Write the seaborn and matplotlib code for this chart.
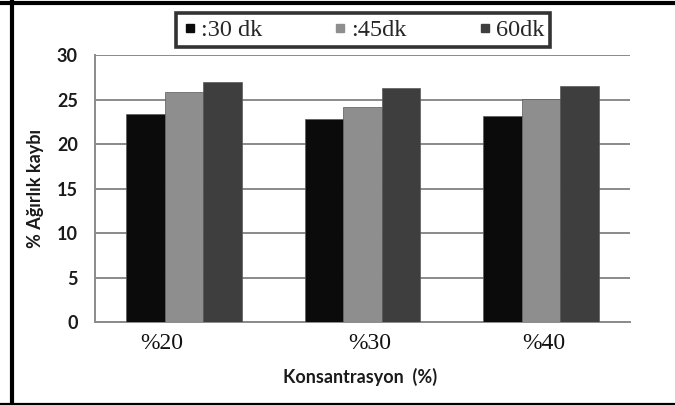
import matplotlib
matplotlib.use("Agg")
import matplotlib.pyplot as plt
import matplotlib.transforms as mtransforms
from matplotlib.lines import Line2D
import seaborn as sns
import pandas as pd

# Weight loss (%) by concentration and treatment time
categories = ["%20", "%30", "%40"]
series_names = [":30 dk", ":45dk", "60dk"]
loss_30dk = [23.4, 22.8, 23.1]
loss_45dk = [25.8, 24.2, 25.1]
loss_60dk = [27.0, 26.3, 26.5]
y_ticks = [0, 5, 10, 15, 20, 25, 30]

colors = ["#0b0b0b", "#8e8e8e", "#3e3e3e"]

rows = []
for name, vals in zip(series_names, [loss_30dk, loss_45dk, loss_60dk]):
    for cat, v in zip(categories, vals):
        rows.append({"Konsantrasyon": cat, "Süre": name, "Kayıp": v})
df = pd.DataFrame(rows)

sns.set_style("white")
W, H = 675, 405
fig = plt.figure(figsize=(W / 100, H / 100), dpi=100)
ax = fig.add_axes([95 / W, 1 - 322.3 / H, (630 - 95) / W, (322.3 - 55) / H])

sns.barplot(data=df, x="Konsantrasyon", y="Kayıp", hue="Süre",
            hue_order=series_names, order=categories, palette=colors,
            width=0.65, gap=0, edgecolor="#5a5a5a", linewidth=0.5,
            ax=ax, legend=False, zorder=3)

grid_c = "#8a8a8a"
ax.set_ylim(0, 30)
ax.set_xlim(-0.5, 2.5)
ax.set_yticks(y_ticks)
ax.yaxis.grid(True, color=grid_c, linewidth=1.4, zorder=0)
ax.set_axisbelow(True)
for s in ["top", "right"]:
    ax.spines[s].set_visible(False)
for s in ["left", "bottom"]:
    ax.spines[s].set_color(grid_c)
    ax.spines[s].set_linewidth(1.4)

ax.tick_params(axis="y", length=5.3, width=1.1, color=grid_c, pad=7,
               labelsize=13, labelcolor="#1a1a1a")
for lab in ax.get_yticklabels():
    lab.set_fontfamily("Lato")
    lab.set_fontweight("bold")

ax.tick_params(axis="x", length=0, pad=8, labelsize=17, labelcolor="#111111")
x_shift_px = [-22, 7, 3]
for lab, dx in zip(ax.get_xticklabels(), x_shift_px):
    lab.set_fontfamily("Liberation Serif")
    lab.set_transform(lab.get_transform() +
                      mtransforms.Affine2D().translate(dx, 0))

ax.set_ylabel("% Ağırlık kaybı", fontsize=13, fontweight="bold",
              family="Lato", color="#1a1a1a")
ax.yaxis.set_label_coords(-0.095, 0.5)
ax.set_xlabel("Konsantrasyon  (%)", fontsize=13, fontweight="bold",
              family="Lato", color="#1a1a1a")
ax.xaxis.set_label_coords(0.495, -0.17)

# Legend with square markers inside a heavy black box
handles = [Line2D([], [], marker="s", linestyle="none", markersize=6,
                  markerfacecolor=c, markeredgecolor=c) for c in colors]
x0, x1, y0, y1 = 176.5, 550, 10, 50
leg = fig.legend(handles, series_names, ncol=3, mode="expand",
                 bbox_to_anchor=(x0 / W, 1 - y1 / H, (x1 - x0) / W, (y1 - y0) / H),
                 loc="center", frameon=True, fancybox=False, borderaxespad=0,
                 handlelength=0.6, handletextpad=0.15, borderpad=0.25,
                 prop={"family": "Liberation Serif", "size": 17.5})
leg.get_frame().set_edgecolor("black")
leg.get_frame().set_linewidth(2.6)

# Outer frame lines (left, top, bottom)
fig.add_artist(Line2D([12 / W, 12 / W], [0, 1], color="black", linewidth=3,
                      transform=fig.transFigure))
fig.add_artist(Line2D([0, 1], [1 - 2.5 / H, 1 - 2.5 / H], color="black",
                      linewidth=3, transform=fig.transFigure))
fig.add_artist(Line2D([0, 1], [1 - 403.5 / H, 1 - 403.5 / H], color="black",
                      linewidth=1.6, transform=fig.transFigure))

fig.savefig("out.png", dpi=100)
